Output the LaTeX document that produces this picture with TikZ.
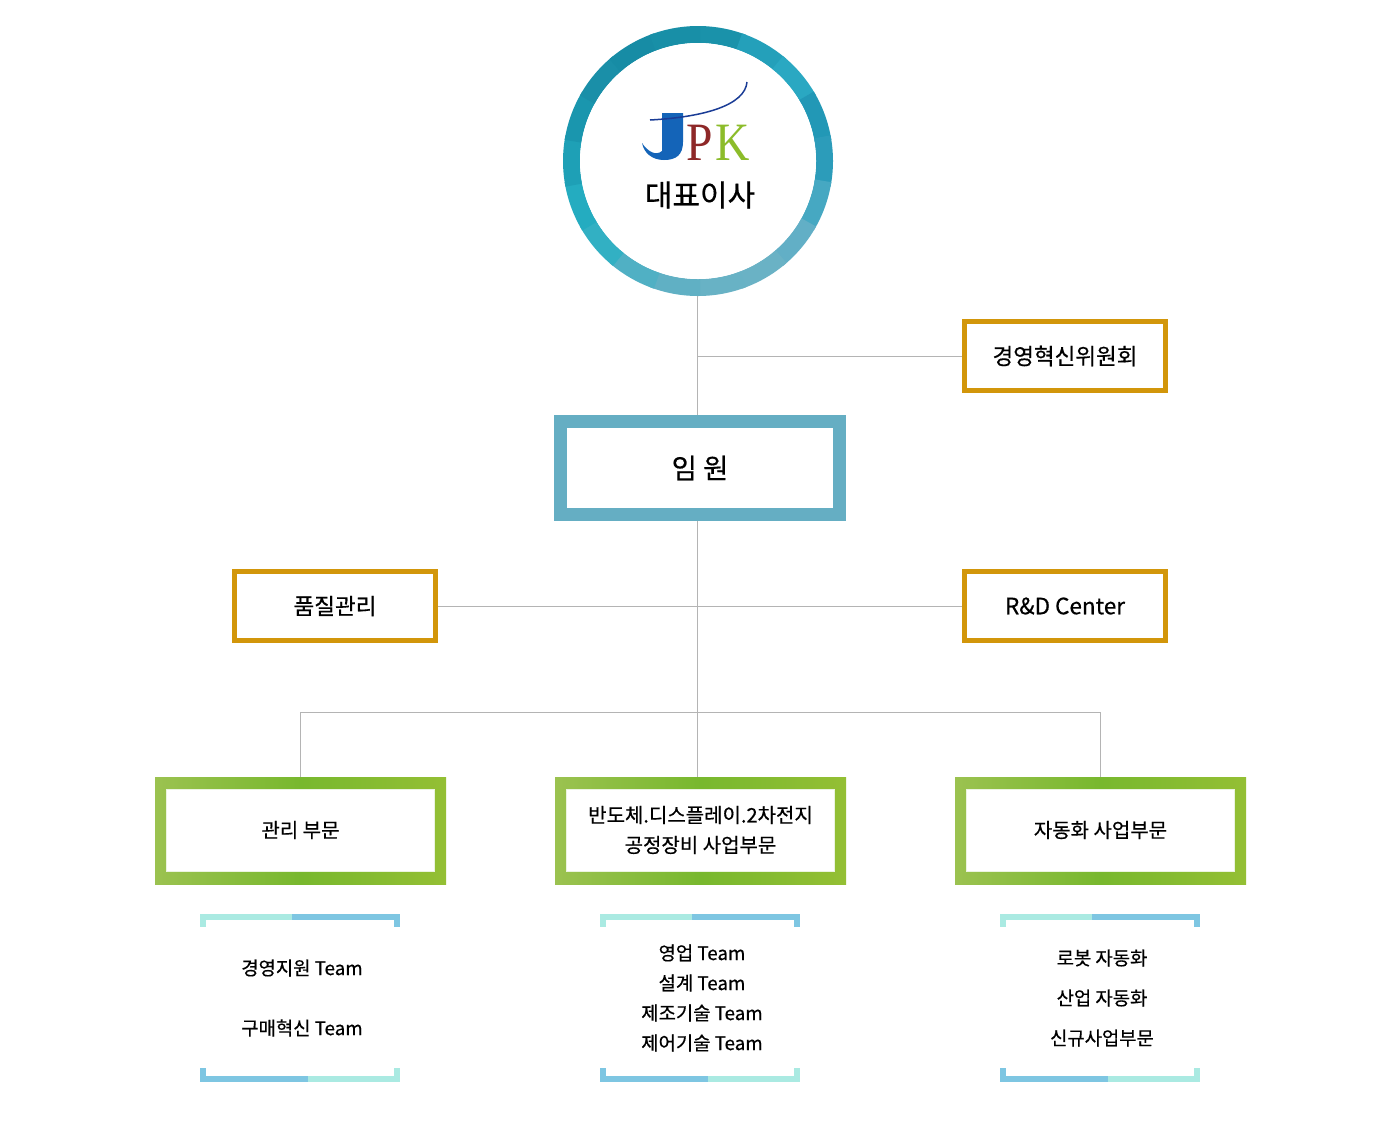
\documentclass[tikz,border=0pt]{standalone}
\usepackage{fontspec}
\setmainfont{Noto Sans CJK KR}[UprightFeatures={FakeBold=0.5}]
\newfontfamily\logofont{Liberation Serif}
\usetikzlibrary{calc}
\definecolor{gold}{RGB}{210,150,10}
\definecolor{execc}{RGB}{101,174,195}
\definecolor{linec}{RGB}{180,180,180}
\definecolor{gA}{RGB}{155,194,80}
\definecolor{gB}{RGB}{120,184,46}
\definecolor{gC}{RGB}{148,191,52}
\definecolor{tlight}{RGB}{170,234,226}
\definecolor{tblue}{RGB}{126,198,226}
\definecolor{jblue}{RGB}{20,100,184}
\definecolor{swoosh}{RGB}{26,60,150}
\definecolor{pred}{RGB}{142,40,40}
\definecolor{kgreen}{RGB}{140,188,42}
\tikzset{
  conn/.style={draw=linec, line width=1pt},
  goldbox/.style={draw=gold, line width=5pt, fill=white, minimum width=201pt, minimum height=69pt, inner sep=0pt, font=\fontsize{22.5}{26}\selectfont},
  execbox/.style={draw=execc, line width=13pt, fill=white, minimum width=279pt, minimum height=93pt, inner sep=0pt, font=\fontsize{27.5}{32}\selectfont},
  divouter/.style={left color=gA, right color=gC, middle color=gB, minimum width=291pt, minimum height=107pt, inner sep=0pt},
  divinner/.style={fill=white, draw=white!85!gB, line width=1pt, minimum width=268pt, minimum height=82pt, inner sep=0pt, align=center, font=\fontsize{20}{30}\selectfont},
  teamtext/.style={align=center, inner sep=0pt, font=\fontsize{18.8}{30}\selectfont},
}
\begin{document}
\begin{tikzpicture}[x=1pt,y=-1pt]
\useasboundingbox (0,0) rectangle (1400,1141);
\fill[white] (0,0) rectangle (1400,1141);

% CEO circle
\node[circle, minimum size=270pt, inner sep=0pt] (ceo) at (698,161) {};
\foreach \a/\r/\g/\b in {
  80/26/146/170, 60/36/160/186, 40/42/168/194, 20/34/152/182, 0/44/156/186,
  -20/70/168/194, -40/98/175/198, -60/106/178/197, -80/104/178/197,
  -100/96/176/196, -120/80/176/196, -140/50/176/195, -160/36/172/192,
  180/30/160/182, 160/26/150/174, 140/26/143/168, 120/23/140/165, 100/24/143/167}{
  \definecolor{segc}{RGB}{\r,\g,\b}
  \draw[segc, line width=17pt] ($(ceo.center)+(\a-11:126.5pt)$) arc[start angle=\a-11, end angle=\a+11, radius=126.5pt];
}
\fill[white] (ceo.center) circle[radius=118pt];

% Logo
\fill[jblue] (662,113) -- (683,113) -- (683,142) .. controls (683,155) and (676,160) .. (664,160)
  .. controls (652,160) and (644,153) .. (642,143) .. controls (648,152) and (656,156) .. (662,151) -- cycle;
\draw[swoosh, line width=1.5pt] (650,120) .. controls (705,117) and (745,105) .. (747,82);
\node[anchor=base west, inner sep=0pt, text=pred, font=\logofont\fontsize{54}{54}\selectfont, xscale=0.88] (logoP) at (686,160) {P};
\node[anchor=base west, inner sep=0pt, text=kgreen, font=\logofont\fontsize{54}{54}\selectfont, xscale=0.88] (logoK) at (715,160) {K};
\node[font=\fontsize{30}{34}\selectfont, inner sep=0pt] (ceotext) at (700,195) {대표이사};

% Boxes
\node[goldbox] (committee) at (1065,356) {경영혁신위원회};
\node[execbox] (exec) at (700,468) {임 원};
\node[goldbox] (quality) at (335,606) {품질관리};
\node[goldbox] (rnd) at (1065,606) {R\&D Center};

\node[divouter] (div1) at (300.5,830.5) {};
\node[divouter] (div2) at (700.5,830.5) {};
\node[divouter] (div3) at (1100.5,830.5) {};
\node[divinner] (div1t) at (300.5,830) {관리 부문};
\node[divinner] (div2t) at (700.5,830) {반도체.디스플레이.2차전지\\공정장비 사업부문};
\node[divinner] (div3t) at (1100.5,830) {자동화 사업부문};

% Connectors
\coordinate (spine) at (697,0);
\coordinate (hub) at (697,712);
\draw[conn] (spine |- ceo.south) -- (spine |- exec.north);
\draw[conn] (spine |- committee.west) -- (committee.west);
\draw[conn] (spine |- exec.south) -- (hub);
\draw[conn] (quality.east) -- (rnd.west);
\draw[conn] (hub -| div1.north) -- (hub -| div3.north);
\draw[conn] (hub -| div1.north) -- (div1.north);
\draw[conn] (hub) -- (spine |- div2.north);
\draw[conn] (hub -| div3.north) -- (div3.north);

% Team brackets
\foreach \x in {200,600,1000}{
  \fill[tlight] (\x,914) rectangle (\x+92,920);
  \fill[tblue] (\x+92,914) rectangle (\x+200,920);
  \fill[tlight] (\x,914) rectangle (\x+6,927);
  \fill[tblue] (\x+194,914) rectangle (\x+200,927);
  \fill[tblue] (\x,1076) rectangle (\x+108,1082);
  \fill[tlight] (\x+108,1076) rectangle (\x+200,1082);
  \fill[tblue] (\x,1068) rectangle (\x+6,1082);
  \fill[tlight] (\x+194,1068) rectangle (\x+200,1082);
}
\node[teamtext] (team1a) at (302,968) {경영지원 Team};
\node[teamtext] (team1b) at (302,1028) {구매혁신 Team};
\node[teamtext] (team2) at (702,998) {영업 Team\\설계 Team\\제조기술 Team\\제어기술 Team};
\node[teamtext, font=\fontsize{18.8}{40}\selectfont] (team3) at (1102,998) {로봇 자동화\\산업 자동화\\신규사업부문};
\end{tikzpicture}
\end{document}
